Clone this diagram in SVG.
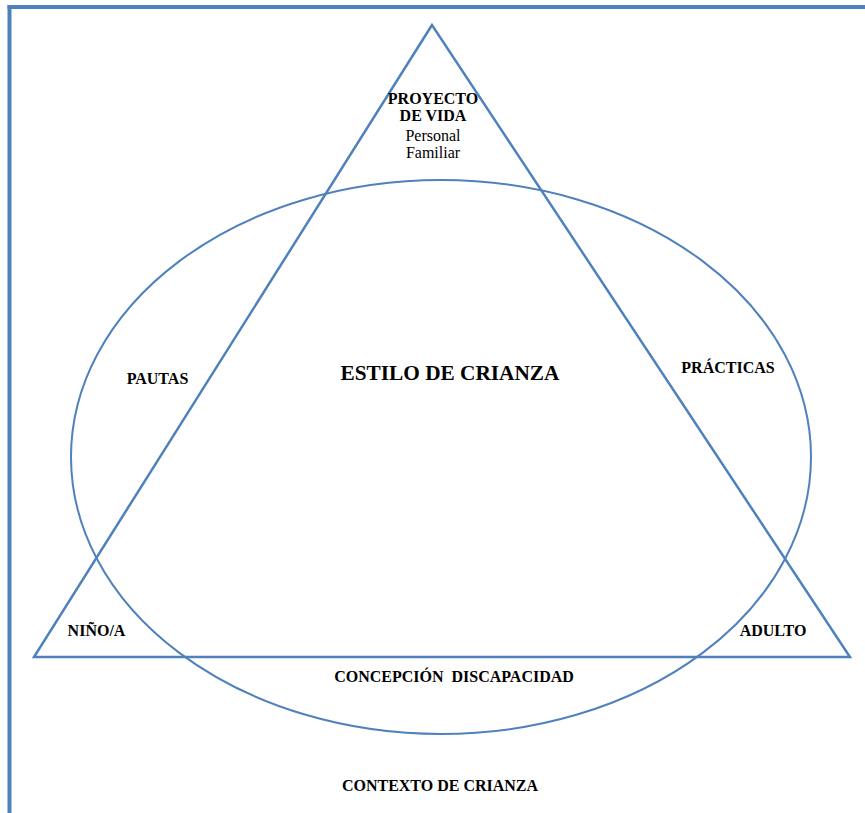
<svg xmlns="http://www.w3.org/2000/svg" width="865" height="813" viewBox="0 0 865 813">
  <style>
    .frame { stroke: #4f81bd; stroke-width: 4; fill: none; }
    .shape { stroke: #4f81bd; stroke-width: 2.5; fill: none; stroke-linejoin: miter; }
    .ring { stroke: #4f81bd; stroke-width: 2; fill: none; }
    text { font-family: "Liberation Serif", "Times New Roman", serif; fill: #000; text-anchor: middle; }
    .b { font-weight: bold; font-size: 16px; }
    .r { font-size: 16px; }
    .title { font-weight: bold; font-size: 21.3px; }
  </style>
  <rect width="865" height="813" fill="#fff"/>

  <!-- page frame: top and left rules -->
  <g id="frame">
    <line class="frame" x1="7.5" y1="7" x2="865" y2="7"/>
    <line class="frame" x1="9.5" y1="5" x2="9.5" y2="813"/>
  </g>

  <g id="shapes">
    <ellipse id="ellipse" class="ring" cx="441" cy="457" rx="370" ry="277"/>
    <polygon id="triangle" class="shape" points="432,25 34,657 850,657"/>
  </g>

  <g id="apex">
    <text class="b" x="433" y="104">PROYECTO</text>
    <text class="b" x="433" y="121">DE VIDA</text>
    <text class="r" x="433" y="141">Personal</text>
    <text class="r" x="433" y="158">Familiar</text>
  </g>
  <g id="center"><text class="title" x="450" y="380">ESTILO DE CRIANZA</text></g>
  <g id="pautas"><text class="b" x="157.5" y="384">PAUTAS</text></g>
  <g id="practicas"><text class="b" x="728" y="373">PRÁCTICAS</text></g>
  <g id="nino"><text class="b" x="96.5" y="636">NIÑO/A</text></g>
  <g id="adulto"><text class="b" x="773" y="636">ADULTO</text></g>
  <g id="concepcion"><text class="b" x="454" y="682" xml:space="preserve">CONCEPCIÓN  DISCAPACIDAD</text></g>
  <g id="contexto"><text class="b" x="440" y="791">CONTEXTO DE CRIANZA</text></g>
</svg>
